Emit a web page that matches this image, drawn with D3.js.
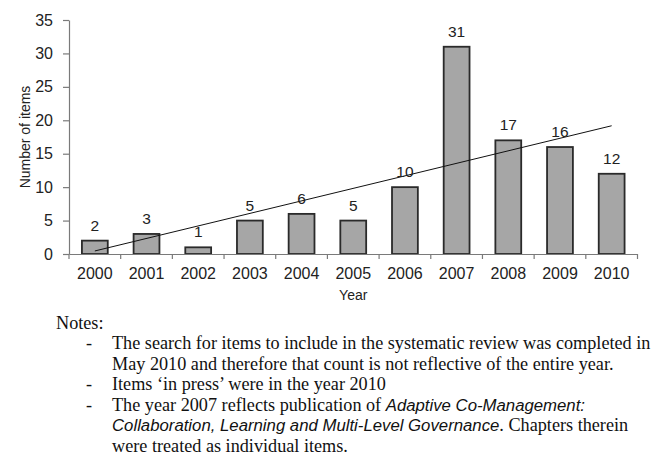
<!DOCTYPE html>
<html>
<head>
<meta charset="utf-8">
<script src="https://cdn.jsdelivr.net/npm/d3@7"></script>
<style>
  body { margin: 0; background: #fff; }
  svg { display: block; }
</style>
</head>
<body>
<svg id="chart" width="663" height="458"></svg>
<script>
// data
const years = ['2000', '2001', '2002', '2003', '2004', '2005', '2006', '2007', '2008', '2009', '2010']
const counts = [2, 3, 1, 5, 6, 5, 10, 31, 17, 16, 12]
const yTicks = [0, 5, 10, 15, 20, 25, 30, 35]

function makeChart() {
  const svg = d3.select('#chart')
  const left = 69, right = 637.5, top = 20, bottom = 254

  const x = d3.scaleBand()
    .domain(years)
    .range([left, right])
    .paddingInner(0.5)
    .paddingOuter(0.25)

  const y = d3.scaleLinear()
    .domain([0, 35])
    .range([bottom, top])

  const sans = 'Liberation Sans, Arial, sans-serif'
  const serif = 'Liberation Serif, Times New Roman, serif'

  // y axis
  const yAxis = svg.append('g')
    .attr('transform', `translate(${left},0)`)
    .call(d3.axisLeft(y).tickValues(yTicks).tickSize(6).tickSizeOuter(0).tickPadding(10))
  yAxis.select('.domain').attr('stroke', '#7a7a7a').attr('stroke-width', 1.2)
  yAxis.selectAll('.tick line').attr('stroke', '#7a7a7a').attr('stroke-width', 1.2)
  yAxis.selectAll('.tick text')
    .attr('font-family', sans).attr('font-size', 16).attr('fill', '#222')

  // bars
  svg.append('g').selectAll('rect')
    .data(counts)
    .enter()
    .append('rect')
    .attr('x', (d, i) => x(years[i]))
    .attr('y', d => y(d))
    .attr('width', x.bandwidth())
    .attr('height', d => y(0) - y(d))
    .attr('fill', '#a6a6a6')
    .attr('stroke', '#2a2a2a')
    .attr('stroke-width', 1.8)

  // x axis
  const xAxis = svg.append('g')
    .attr('transform', `translate(0,${bottom})`)
    .call(d3.axisBottom(x).tickSize(0).tickSizeOuter(0).tickPadding(14))
  xAxis.select('.domain').attr('stroke', '#7a7a7a').attr('stroke-width', 1.2)
  xAxis.selectAll('.tick text')
    .attr('font-family', sans).attr('font-size', 16).attr('fill', '#222')

  // tick marks between categories
  const step = x.step()
  const bounds = years.map(d => x(d) - step * 0.25).concat([right])
  xAxis.selectAll('.bound')
    .data(bounds)
    .enter()
    .append('line')
    .attr('x1', d => d).attr('x2', d => d)
    .attr('y1', 0).attr('y2', 5)
    .attr('stroke', '#7a7a7a').attr('stroke-width', 1.2)

  // linear trend line (least squares on the counts)
  const n = counts.length
  const mx = d3.mean(counts, (d, i) => i)
  const my = d3.mean(counts)
  const sxy = d3.sum(counts, (d, i) => (i - mx) * (d - my))
  const sxx = d3.sum(counts, (d, i) => (i - mx) * (i - mx))
  const slope = sxy / sxx
  const icpt = my - slope * mx
  const trend = [0, n - 1].map(i => [x(years[i]) + x.bandwidth() / 2, y(icpt + slope * i)])
  svg.append('path')
    .attr('d', d3.line()(trend))
    .attr('stroke', '#111')
    .attr('stroke-width', 1)
    .attr('fill', 'none')

  // value labels
  svg.append('g').selectAll('text')
    .data(counts)
    .enter()
    .append('text')
    .attr('x', (d, i) => x(years[i]) + x.bandwidth() / 2)
    .attr('y', d => y(d) - 10)
    .attr('text-anchor', 'middle')
    .attr('font-family', sans)
    .attr('font-size', 15.5)
    .attr('fill', '#222')
    .text(d => d)

  // axis titles
  svg.append('text')
    .attr('transform', `translate(30,${(top + bottom) / 2}) rotate(-90)`)
    .attr('text-anchor', 'middle')
    .attr('font-family', sans).attr('font-size', 14).attr('fill', '#222')
    .text('Number of items')
  svg.append('text')
    .attr('x', (left + right) / 2)
    .attr('y', 300)
    .attr('text-anchor', 'middle')
    .attr('font-family', sans).attr('font-size', 14).attr('fill', '#222')
    .text('Year')

  // notes below the chart
  const notes = svg.append('g').attr('font-family', serif).attr('font-size', 18.2).attr('fill', '#111')
  notes.append('text').attr('x', 56).attr('y', 329).text('Notes:')

  const lines = [
    { y: 349, dash: true, parts: [['The search for items to include in the systematic review was completed in', false]] },
    { y: 369.5, dash: false, parts: [['May 2010 and therefore that count is not reflective of the entire year.', false]] },
    { y: 390, dash: true, parts: [['Items \u2018in press\u2019 were in the year 2010', false]] },
    { y: 410.5, dash: true, parts: [['The year 2007 reflects publication of ', false], ['Adaptive Co-Management:', true]] },
    { y: 431, dash: false, parts: [['Collaboration, Learning and Multi-Level Governance', true], ['. Chapters therein', false]] },
    { y: 451.5, dash: false, parts: [['were treated as individual items.', false]] }
  ]
  lines.forEach(l => {
    if (l.dash) notes.append('text').attr('x', 86).attr('y', l.y).text('-')
    const t = notes.append('text').attr('x', 112).attr('y', l.y).attr('xml:space', 'preserve')
    l.parts.forEach(p => {
      const s = t.append('tspan').text(p[0])
      if (p[1]) s.attr('font-family', sans).attr('font-style', 'italic').attr('font-size', 16.75)
    })
  })
}

window.onload = makeChart
</script>
</body>
</html>
